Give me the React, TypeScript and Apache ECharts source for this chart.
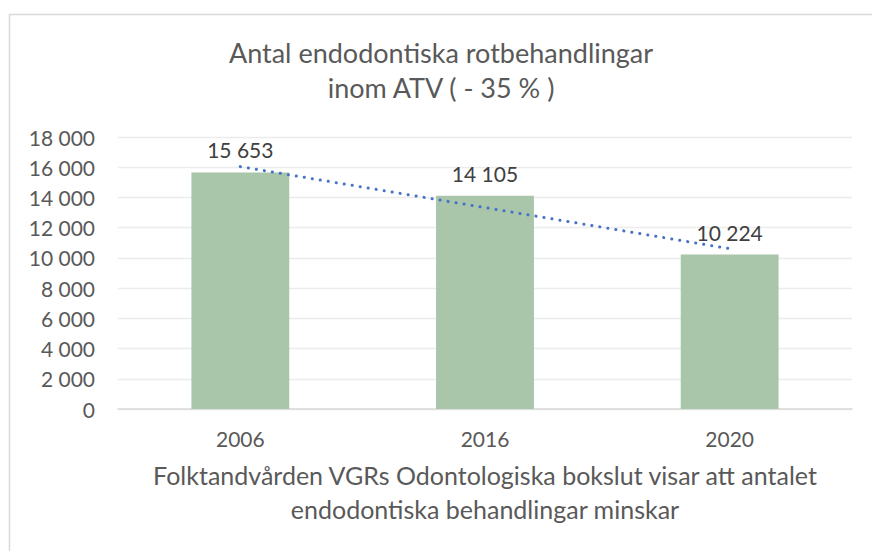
import React, { useEffect, useRef } from "react";
import * as echarts from "echarts";

const categories = ["2006", "2016", "2020"];
const values = [15653, 14105, 10224];
// dotted linear trend (start, middle, end)
const trendValues = [16040, 13330, 10610];
const yTicks = { min: 0, max: 18000, interval: 2000 };
const titleLines = ["Antal endodontiska rotbehandlingar", "inom ATV ( - 35 % )"];
const xAxisName = "Folktandvården VGRs Odontologiska bokslut visar att antalet\nendodontiska behandlingar minskar";

const FONT = "Lato";

function fmt(v: number): string {
  const s = String(Math.round(v));
  return s.replace(/\B(?=(\d{3})+(?!\d))/g, " ");
}

export default function App() {
  const ref = useRef<HTMLDivElement>(null);
  useEffect(() => {
    if (!ref.current) return;
    const chart = echarts.init(ref.current, undefined, { renderer: "svg" });
    chart.setOption({
      animation: false,
      backgroundColor: "#ffffff",
      textStyle: { fontFamily: FONT },
      graphic: [
        {
          type: "rect",
          shape: { x: 9.5, y: 14.5, width: 900, height: 600 },
          style: { fill: "none", stroke: "#d9d9d9", lineWidth: 1.5 },
          silent: true,
        },
        {
          type: "text",
          x: 441,
          y: 52,
          style: {
            text: titleLines[0],
            fontFamily: FONT,
            fontSize: 27,
            fill: "#595959",
            textAlign: "center",
            textVerticalAlign: "middle",
          },
        },
        {
          type: "text",
          x: 441,
          y: 87,
          style: {
            text: titleLines[1],
            fontFamily: FONT,
            fontSize: 27,
            fill: "#595959",
            textAlign: "center",
            textVerticalAlign: "middle",
          },
        },
      ],
      grid: { left: 118, right: 20, top: 137, bottom: 142, containLabel: false },
      xAxis: {
        type: "category",
        data: categories,
        axisLine: { lineStyle: { color: "#d9d9d9", width: 1.5 } },
        axisTick: { show: false },
        axisLabel: { color: "#595959", fontSize: 21, fontFamily: FONT, margin: 19 },
        name: xAxisName,
        nameLocation: "middle",
        nameGap: 49,
        nameTextStyle: {
          color: "#595959",
          fontSize: 25,
          fontFamily: FONT,
          lineHeight: 34,
        },
      },
      yAxis: {
        type: "value",
        min: yTicks.min,
        max: yTicks.max,
        interval: yTicks.interval,
        axisLine: { show: false },
        axisTick: { show: false },
        axisLabel: {
          color: "#595959",
          fontSize: 21,
          fontFamily: FONT,
          margin: 23,
          formatter: (v: number) => fmt(v),
        },
        splitLine: { lineStyle: { color: "#ececec", width: 1.3 } },
      },
      series: [
        {
          type: "bar",
          data: values,
          barWidth: "40%",
          itemStyle: { color: "#a9c6aa" },
          label: {
            show: true,
            position: "top",
            distance: 12,
            color: "#404040",
            fontSize: 21,
            fontFamily: FONT,
            formatter: (p: any) => fmt(p.value),
          },
        },
        {
          type: "line",
          data: trendValues,
          symbol: "none",
          silent: true,
          lineStyle: { color: "#4472c4", width: 3, type: [0.1, 8], cap: "round" },
          z: 5,
        },
      ],
    });
    return () => chart.dispose();
  }, []);
  return (
    <div
      ref={ref}
      style={{ position: "fixed", left: 0, top: 0, width: 872, height: 551 }}
    />
  );
}
